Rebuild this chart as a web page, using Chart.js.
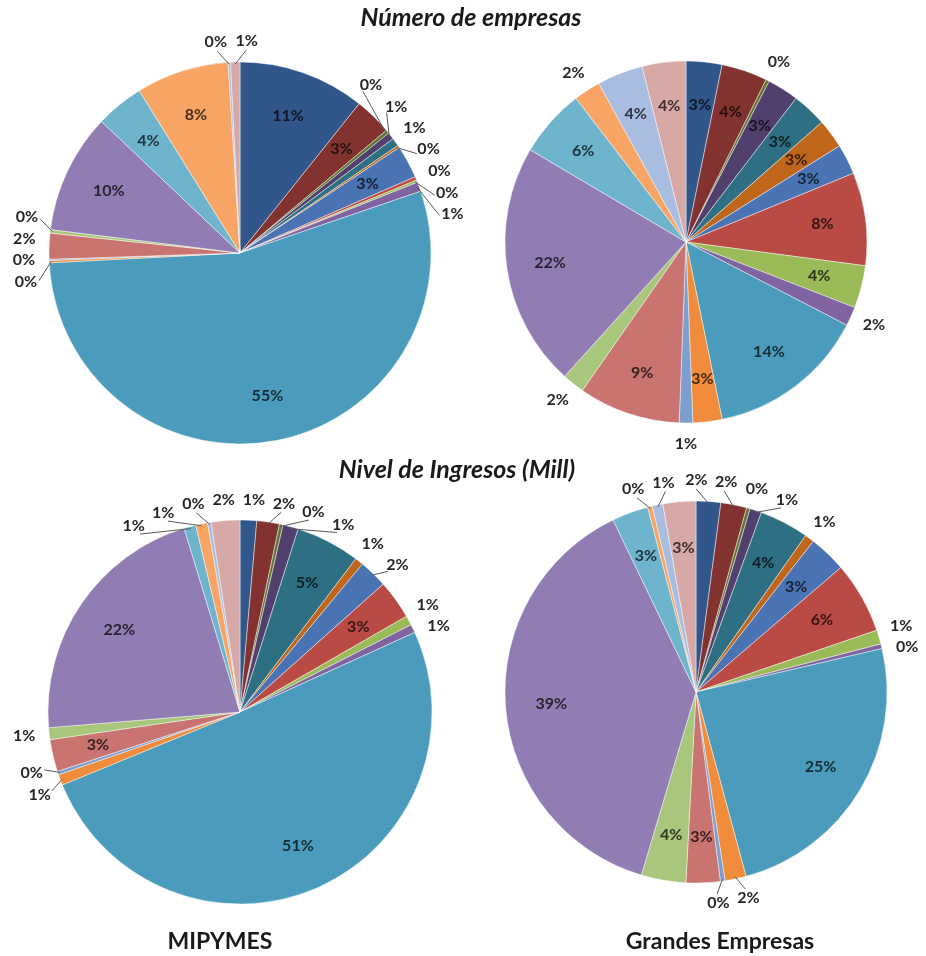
<!DOCTYPE html>
<html>
<head>
<meta charset="utf-8">
<script src="https://cdn.jsdelivr.net/npm/chart.js@4.4.1/dist/chart.umd.min.js"></script>
<style>
  body {
    margin: 0;
    background: #fff;
    width: 926px;
    height: 956px;
    overflow: hidden;
    position: relative;
    font-family: Lato, "Noto Sans", sans-serif;
  }
  .pie { position: absolute; }
  .title {
    position: absolute;
    transform: translateX(-50%);
    white-space: nowrap;
    font-weight: bold;
    color: #1a1a1a;
    z-index: 2;
  }
  .title.big { font-style: italic; font-size: 25px; }
  .title.foot { font-size: 23px; }
</style>
</head>
<body>
<div class="title big" style="left:471px; top:1px;">Número de empresas</div>
<div class="title big" style="left:457px; top:453px;">Nivel de Ingresos (Mill)</div>
<div class="title foot" style="left:220px; top:926px;">MIPYMES</div>
<div class="title foot" style="left:720px; top:926px;">Grandes Empresas</div>

<canvas id="pieA" class="pie" width="480" height="460" style="left:0px; top:23px;"></canvas>
<canvas id="pieB" class="pie" width="480" height="460" style="left:446px; top:12px;"></canvas>
<canvas id="pieC" class="pie" width="480" height="460" style="left:0px; top:482px;"></canvas>
<canvas id="pieD" class="pie" width="480" height="460" style="left:456px; top:462px;"></canvas>

<script>
// 20 sectors, same order in every pie (clockwise from 12 o'clock)
const categories = [
  "Sector 1", "Sector 2", "Sector 3", "Sector 4", "Sector 5",
  "Sector 6", "Sector 7", "Sector 8", "Sector 9", "Sector 10",
  "Sector 11", "Sector 12", "Sector 13", "Sector 14", "Sector 15",
  "Sector 16", "Sector 17", "Sector 18", "Sector 19", "Sector 20"
];

// % share
const mipymesEmpresas = [10.8, 3.2, 0.3, 0.6, 0.7, 0.2, 2.8, 0.3, 0.2, 0.8,
                         54.8, 0.2, 0.1, 2.2, 0.3, 10.2, 4.1, 7.9, 0.2, 0.8];
const grandesEmpresas = [3.2, 4.1, 0.3, 2.8, 3.1, 2.6, 2.7, 8.3, 3.8, 1.7,
                         14.2, 2.6, 1.2, 9.1, 2.0, 21.8, 6.1, 2.4, 4.1, 3.9];
const mipymesIngresos = [1.4, 1.9, 0.3, 1.3, 5.4, 0.7, 2.4, 3.3, 0.8, 0.7,
                         50.6, 0.9, 0.3, 2.7, 1.0, 21.6, 1.0, 1.0, 0.3, 2.4];
const grandesIngresos = [2.1, 2.2, 0.3, 1.0, 4.2, 0.8, 3.2, 6.1, 1.2, 0.4,
                         24.6, 1.8, 0.4, 2.9, 3.8, 38.5, 3.1, 0.4, 0.9, 2.8];

const sliceColors = [
  "#30568a", "#82332f", "#5f7530", "#51406e", "#2e6f83", "#c0661a",
  "#4a73b4", "#b94a44", "#9bbb59", "#8064a2", "#4b9cbc", "#f08c3c",
  "#7c9fd0", "#c97471", "#a9c77c", "#917cb3", "#6eb4cc", "#f7a465",
  "#a8bde0", "#d6a9a6"
];

function shade(hex, k) {
  const n = parseInt(hex.slice(1), 16);
  const r = Math.round(((n >> 16) & 255) * k);
  const g = Math.round(((n >> 8) & 255) * k);
  const b = Math.round((n & 255) * k);
  return `rgb(${r},${g},${b})`;
}

function wrap(a) {
  while (a > Math.PI) a -= 2 * Math.PI;
  while (a <= -Math.PI) a += 2 * Math.PI;
  return a;
}

// percentage labels: big slices inside, small ones outside with leader lines
const pieLabels = {
  id: "pieLabels",
  afterDatasetsDraw(chart) {
    const ctx = chart.ctx;
    const meta = chart.getDatasetMeta(0);
    const data = chart.data.datasets[0].data;
    const colors = chart.data.datasets[0].backgroundColor;
    const H = 16;
    ctx.save();
    ctx.font = "bold 16px Lato";
    ctx.textAlign = "center";
    ctx.textBaseline = "middle";

    const outside = [];
    meta.data.forEach((arc, i) => {
      const p = arc.getProps(["x", "y", "startAngle", "endAngle", "outerRadius"], true);
      const pct = Math.round(data[i]);
      const text = pct + "%";
      const mid = (p.startAngle + p.endAngle) / 2;
      if (pct >= 3) {
        const rr = p.outerRadius * 0.76;
        ctx.fillStyle = shade(colors[i], 0.28);
        ctx.fillText(text, p.x + rr * Math.cos(mid), p.y + rr * Math.sin(mid));
      } else {
        outside.push({
          text, mid, theta: mid, w: ctx.measureText(text).width,
          cx: p.x, cy: p.y, r: p.outerRadius
        });
      }
    });

    const boxOf = (l) => {
      const R = l.r + 12;
      const px = l.cx + R * Math.cos(l.theta);
      const py = l.cy + R * Math.sin(l.theta);
      return {
        x: px + Math.cos(l.theta) * (l.w / 2 + 2),
        y: py + Math.sin(l.theta) * (H / 2 + 1),
        px, py
      };
    };

    for (let it = 0; it < 800; it++) {
      let moved = false;
      for (let i = 0; i < outside.length; i++) {
        for (let j = i + 1; j < outside.length; j++) {
          const a = outside[i], b = outside[j];
          const ba = boxOf(a), bb = boxOf(b);
          if (Math.abs(ba.x - bb.x) < (a.w + b.w) / 2 + 7 && Math.abs(ba.y - bb.y) < H + 5) {
            const d = wrap(b.theta - a.theta);
            const s = d >= 0 ? 1 : -1;
            a.theta -= s * 0.004;
            b.theta += s * 0.004;
            moved = true;
          }
        }
      }
      if (!moved) break;
    }

    ctx.strokeStyle = "#595959";
    ctx.lineWidth = 1;
    outside.forEach((l) => {
      const b = boxOf(l);
      if (Math.abs(wrap(l.theta - l.mid)) > 0.035) {
        ctx.beginPath();
        ctx.moveTo(l.cx + (l.r - 2) * Math.cos(l.mid), l.cy + (l.r - 2) * Math.sin(l.mid));
        ctx.lineTo(b.px, b.py);
        ctx.stroke();
      }
      ctx.fillStyle = "#262626";
      ctx.fillText(l.text, b.x, b.y);
    });
    ctx.restore();
  }
};

function makePie(id, values, radius) {
  return new Chart(document.getElementById(id), {
    type: "pie",
    data: {
      labels: categories,
      datasets: [
        {
          data: values,
          backgroundColor: sliceColors,
          borderColor: "rgba(255,255,255,0.45)",
          borderWidth: 1,
          radius: radius,
        },
      ],
    },
    options: {
      responsive: false,
      animation: false,
      events: [],
      plugins: {
        legend: { display: false },
        tooltip: { enabled: false },
      },
    },
    plugins: [pieLabels],
  });
}

makePie("pieA", mipymesEmpresas, 191);
makePie("pieB", grandesEmpresas, 181);
makePie("pieC", mipymesIngresos, 192);
makePie("pieD", grandesIngresos, 191);
</script>
</body>
</html>
